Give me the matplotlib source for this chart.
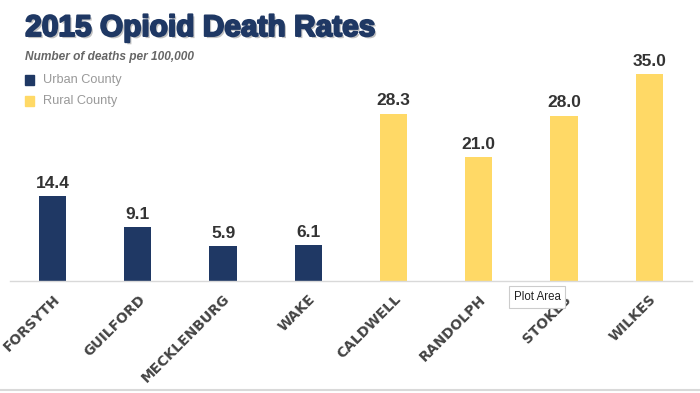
import matplotlib
matplotlib.use("Agg")
import matplotlib.pyplot as plt
import matplotlib.patheffects as pe
from matplotlib.patches import Rectangle

# Dados (mortes por 100.000)
condados = ["FORSYTH", "GUILFORD", "MECKLENBURG", "WAKE",
            "CALDWELL", "RANDOLPH", "STOKES", "WILKES"]
taxas = [14.4, 9.1, 5.9, 6.1, 28.3, 21.0, 28.0, 35.0]
tipo = ["Urban", "Urban", "Urban", "Urban", "Rural", "Rural", "Rural", "Rural"]

cor_urbano = "#1f3864"
cor_rural = "#ffd966"
cores = [cor_urbano if t == "Urban" else cor_rural for t in tipo]

plt.rcParams["font.family"] = ["Liberation Sans", "DejaVu Sans"]

fig = plt.figure(figsize=(7, 3.93), dpi=100)
ax = fig.add_axes([0.0143, 0.285, 0.974, 0.6015])

x = list(range(len(condados)))
barras = ax.bar(x, taxas, width=0.32, color=cores, zorder=2)

for xi, v in zip(x, taxas):
    ax.text(xi, v + 0.9, f"{v:.1f}", ha="center", va="bottom",
            fontsize=12.5, fontweight="bold", color="#333333")

ax.set_xlim(-0.5, len(condados) - 0.5)
ax.set_ylim(0, 40)
ax.set_yticks([])
ax.set_xticks(x)
ax.set_xticklabels(condados, rotation=45, ha="right", rotation_mode="anchor",
                   fontsize=10, fontweight="heavy", color="#444444",
                   family=["DejaVu Sans"])
ax.tick_params(axis="x", length=0, pad=8)
for s in ["top", "right", "left"]:
    ax.spines[s].set_visible(False)
ax.spines["bottom"].set_color("#d9d9d9")
ax.spines["bottom"].set_linewidth(1)

# Titulo com sombra
fig.text(0.036, 1 - 28 / 393, "2015 Opioid Death Rates", fontsize=21.5,
         fontweight="bold", color=cor_urbano, va="center",
         path_effects=[pe.withSimplePatchShadow(offset=(1.5, -1.5),
                                                shadow_rgbFace="#999999",
                                                alpha=0.6),
                       pe.withStroke(linewidth=1.4, foreground=cor_urbano)])
fig.text(0.036, 1 - 57 / 393, "Number of deaths per 100,000", fontsize=8.6,
         fontstyle="italic", fontweight="bold", color="#666666", va="center")

# Legenda manual
for i, (rotulo, cor) in enumerate([("Urban County", cor_urbano),
                                   ("Rural County", cor_rural)]):
    yc = 1 - (80 + 21 * i) / 393
    fig.patches.append(Rectangle((25 / 700, yc - 4.5 / 393), 9 / 700, 9 / 393,
                                 transform=fig.transFigure, color=cor,
                                 figure=fig))
    fig.text(43 / 700, yc, rotulo, fontsize=9.2, color="#999999", va="center")

# Tooltip que aparece na captura original
fig.text(537 / 700, 1 - 297 / 393, "Plot Area", fontsize=8.3, color="#222222",
         ha="center", va="center", zorder=5,
         bbox=dict(boxstyle="square,pad=0.4", fc="white", ec="#cccccc", lw=0.8))

# linha inferior
fig.add_artist(plt.Line2D([0, 1], [1 - 390 / 393] * 2, color="#d9d9d9",
                          lw=1.5, transform=fig.transFigure))

fig.savefig("out.png", dpi=100)
